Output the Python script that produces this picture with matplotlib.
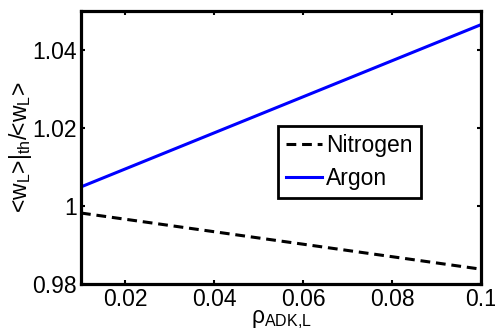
import matplotlib
matplotlib.use("Agg")
import matplotlib.pyplot as plt

rho = [0.01, 0.1]
nitrogen = [0.9982, 0.9838]
argon = [1.0049, 1.0465]
xticks = [0.02, 0.04, 0.06, 0.08, 0.1]
xticklabels = ["0.02", "0.04", "0.06", "0.08", "0.1"]
yticks = [0.98, 1.0, 1.02, 1.04]
yticklabels = ["0.98", "1", "1.02", "1.04"]

plt.rcParams['font.family'] = ['Liberation Sans', 'DejaVu Sans']
plt.rcParams['mathtext.fontset'] = 'custom'
plt.rcParams['mathtext.rm'] = 'Liberation Sans'
plt.rcParams['mathtext.it'] = 'Liberation Sans'
plt.rcParams['mathtext.bf'] = 'Liberation Sans:bold'

fs = 16.5
fig = plt.figure(figsize=(4.95, 3.35), dpi=100)
ax = fig.add_axes([81/495, 1-284/335, 400/495, 273/335])

ax.plot(rho, nitrogen, 'k--', lw=2.2, dashes=(3.2, 1.9), label='Nitrogen')
ax.plot(rho, argon, color='#0000ff', lw=2.2, label='Argon')

ax.set_xlim(0.01, 0.1)
ax.set_ylim(0.98, 1.05)
ax.set_xticks(xticks)
ax.set_xticklabels(xticklabels)
ax.set_yticks(yticks)
ax.set_yticklabels(yticklabels)
ax.tick_params(direction='in', length=3, width=1.5, labelsize=fs, top=True, right=True, pad=3)
for s in ax.spines.values():
    s.set_linewidth(2.3)

ax.set_xlabel(r'ρ$_{\mathregular{ADK{,}L}}$', fontsize=fs, labelpad=-2)
ax.set_ylabel(r'<w$_\mathregular{L}$>|$_\mathregular{th}$/<w$_\mathregular{L}$>', fontsize=fs, labelpad=-1)

leg = ax.legend(loc='upper left', bbox_to_anchor=(0.4925, 0.579),
                fontsize=fs, fancybox=False, framealpha=1, edgecolor='black',
                handlelength=1.55, handletextpad=0.2, borderpad=0.35, labelspacing=0.45,
                borderaxespad=0)
leg.get_frame().set_linewidth(2)

fig.savefig('out.png', dpi=100)
